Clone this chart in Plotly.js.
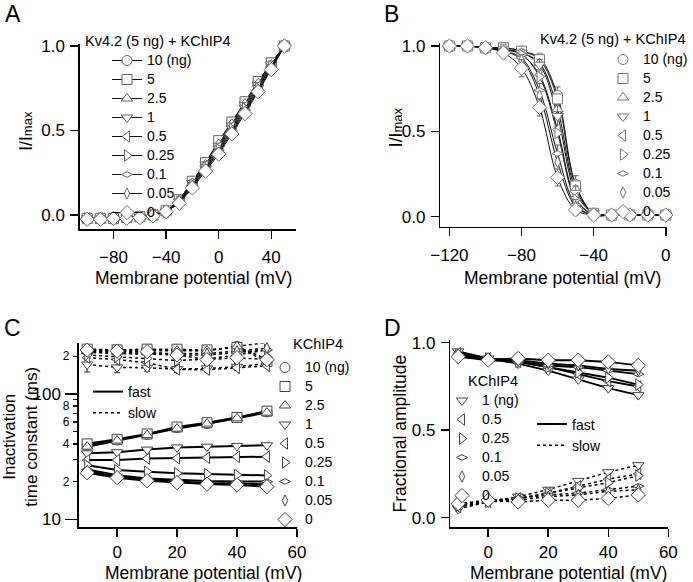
<!DOCTYPE html>
<html><head><meta charset="utf-8">
<script src="https://cdn.plot.ly/plotly-3.0.1.min.js"></script>
<style>html,body{margin:0;padding:0;background:#fff}#chart{width:693px;height:582px}</style>
</head><body><div id="chart"></div>
<script>
// ---------------- DATA ----------------
const concLabels = ['10 (ng)','5','2.5','1','0.5','0.25','0.1','0.05','0'];
const concSymbols = ['circle','square','triangle-up','triangle-down','triangle-left','triangle-right','diamond-wide','diamond-tall','diamond'];
const concSizes = [10,10,10,10,10,10,8,8,11];

// Panel A: activation (I/Imax)
const actV = [-100,-90,-80,-70,-60,-50,-40,-30,-20,-10,0,10,20,30,40,50];
const act10  = [-0.02,-0.02,-0.02,-0.015,-0.01,0.0,0.02,0.09,0.20,0.31,0.43,0.55,0.67,0.79,0.90,1.0];
const act5   = [-0.02,-0.02,-0.02,-0.015,-0.01,0.0,0.025,0.09,0.20,0.31,0.44,0.55,0.67,0.79,0.90,1.0];
const act2_5 = [-0.02,-0.02,-0.02,-0.015,-0.01,0.0,0.02,0.09,0.19,0.30,0.42,0.54,0.66,0.78,0.89,1.0];
const act1   = [-0.02,-0.02,-0.02,-0.015,-0.01,0.0,0.02,0.08,0.19,0.30,0.41,0.53,0.65,0.77,0.89,1.0];
const act0_5 = [-0.02,-0.02,-0.02,-0.015,-0.01,0.0,0.02,0.08,0.18,0.29,0.40,0.52,0.64,0.76,0.88,1.0];
const act0_25= [-0.02,-0.02,-0.02,-0.015,-0.01,0.0,0.02,0.08,0.18,0.28,0.39,0.51,0.63,0.75,0.88,1.0];
const act0_1 = [-0.02,-0.02,-0.02,-0.015,-0.01,0.0,0.02,0.08,0.17,0.27,0.38,0.50,0.62,0.74,0.87,1.0];
const act0_05= [-0.02,-0.02,-0.02,-0.015,-0.01,0.0,0.02,0.07,0.17,0.27,0.37,0.49,0.61,0.74,0.87,1.0];
const act0   = [-0.025,-0.025,-0.02,-0.02,-0.015,-0.005,0.02,0.07,0.16,0.26,0.36,0.48,0.60,0.73,0.86,1.0];
const actSeries = [act10,act5,act2_5,act1,act0_5,act0_25,act0_1,act0_05,act0];

// Panel B: steady-state inactivation
const inaV = [-120,-110,-100,-90,-80,-70,-60,-50,-40,-30,-20,-10,0];
const ina10  = [1.0,1.0,0.99,0.99,0.97,0.93,0.71,0.19,0.02,0.01,0.01,0.01,0.01];
const ina5   = [1.0,1.0,0.99,0.99,0.97,0.92,0.69,0.18,0.02,0.01,0.01,0.01,0.01];
const ina2_5 = [1.0,1.0,0.99,0.98,0.96,0.90,0.63,0.16,0.02,0.01,0.01,0.01,0.01];
const ina1   = [1.0,1.0,0.99,0.98,0.96,0.89,0.59,0.14,0.02,0.01,0.01,0.01,0.01];
const ina0_5 = [1.0,1.0,0.99,0.98,0.95,0.83,0.51,0.11,0.01,0.01,0.01,0.01,0.01];
const ina0_25= [1.0,1.0,0.99,0.98,0.95,0.82,0.49,0.10,0.01,0.01,0.01,0.01,0.01];
const ina0_1 = [1.0,1.0,0.99,0.97,0.93,0.74,0.37,0.07,0.01,0.01,0.01,0.01,0.01];
const ina0_05= [1.0,1.0,0.99,0.97,0.92,0.71,0.32,0.06,0.01,0.01,0.01,0.01,0.01];
const ina0   = [1.0,1.0,0.99,0.96,0.87,0.64,0.23,0.04,0.01,0.01,0.01,0.01,0.01];
const inaSeries = [ina10,ina5,ina2_5,ina1,ina0_5,ina0_25,ina0_1,ina0_05,ina0];
const inaErr10 = [0,0,0,0,0.01,0.02,0.05,0.05,0.01,0,0,0,0];
const inaErr1  = [0,0,0,0,0.01,0.03,0.06,0.04,0.01,0,0,0,0];
const inaErr0_1= [0,0,0,0.01,0.02,0.04,0.05,0.03,0.01,0,0,0,0];
const inaErr0  = [0,0,0,0.01,0.05,0.05,0.05,0.03,0.01,0,0,0,0];
const inaErrors = [inaErr10,null,null,inaErr1,null,null,inaErr0_1,null,inaErr0];

// Panel C: inactivation time constants (ms)
const tauV = [-10,0,10,20,30,40,50];
const tauFast = [
  [39,43,47.5,54,58,65,72],        // 10
  [40,43.5,48,54.5,59,65,73],      // 5
  [38,42.5,47,53,58,64,71],        // 2.5
  [33.6,34.3,36,37.5,38,38.5,39],  // 1
  [29.7,29.7,30.5,30.7,31,31.5,31.6], // 0.5
  [27,24.7,24,23.3,23,22.6,22.4],  // 0.25
  [25,22.5,21.2,20.6,20.2,20,20],  // 0.1
  [24.2,22,20.6,20,19.5,19.3,19],  // 0.05
  [23.5,21.5,20.3,19.6,19.1,18.8,18.2] // 0
];
const tauSlow = [
  [225,222,226,225,222,240,190],
  [228,225,228,228,225,235,182],
  [220,220,222,222,222,240,258],
  [172,163,162,158,160,165,175],
  [195,188,178,157,156,162,168],
  [205,198,192,185,190,205,225],
  [215,210,208,205,205,215,225],
  [218,214,212,210,210,220,232],
  [224,220,218,205,188,195,188]
];
const tauSlowErr = [
  [10,10,10,10,20,30,10],
  null, null,
  [22,15,10,10,10,10,10],
  null,null,null,null,null
];

// Panel D: fractional amplitudes
const ampLabels = ['1 (ng)','0.5','0.25','0.1','0.05','0'];
const ampIdx = [3,4,5,6,7,8];   // index into concSymbols
const ampV = [-10,0,10,20,30,40,50];
const ampFast = [
  [0.95,0.91,0.88,0.84,0.79,0.74,0.70],
  [0.94,0.91,0.89,0.86,0.82,0.78,0.75],
  [0.93,0.91,0.89,0.86,0.83,0.80,0.76],
  [0.93,0.90,0.89,0.87,0.86,0.84,0.82],
  [0.92,0.91,0.90,0.88,0.87,0.85,0.84],
  [0.92,0.90,0.91,0.90,0.90,0.89,0.87]
];
const ampSlow = [
  [0.05,0.09,0.12,0.16,0.21,0.26,0.30],
  [0.06,0.09,0.11,0.14,0.18,0.22,0.25],
  [0.07,0.09,0.11,0.14,0.17,0.20,0.24],
  [0.07,0.10,0.11,0.13,0.14,0.16,0.18],
  [0.08,0.09,0.10,0.12,0.13,0.15,0.16],
  [0.08,0.10,0.09,0.10,0.10,0.11,0.13]
];

// Axis tick labels
const tickA_x = [-80,-40,0,40];
const tickB_x = [-120,-80,-40,0];
const tickCD_x = [0,20,40,60];
const tickY_lin = [0,0.5,1];
const tickC_major = [10,100];
const tickC_minor = [20,40,60,80,200];
const tickC_minorText = ['2','4','6','8','2'];
const tickC_minorUnlabeled = [30,50,70,90];

// ---------------- STYLE ----------------
const FONT = 'Liberation Sans, Arial, sans-serif';
const W = 693, H = 582;
const px = v => v / W;
const py = v => 1 - v / H;
const lbl = t => '<span style="font-size:14px">' + t + '</span>';

const traces = [];

// Panel A
actSeries.forEach((ys, i) => {
  traces.push({
    type:'scatter', mode:'lines+markers', x: actV, y: ys, xaxis:'x', yaxis:'y',
    name: lbl(concLabels[i]), legend:'legend', cliponaxis:false,
    line:{color:'#111', width:1},
    marker:{symbol: concSymbols[i], size: concSizes[i], color:'#fff', line:{color:'#666', width:1}}
  });
});

// Panel B
inaSeries.forEach((ys, i) => {
  traces.push({
    type:'scatter', mode:'lines', x: inaV, y: ys, xaxis:'x2', yaxis:'y2',
    showlegend:false, cliponaxis:false, hoverinfo:'skip',
    line:{color:'#111', width:1, shape:'spline', smoothing:1}
  });
});
inaSeries.forEach((ys, i) => {
  const tr = {
    type:'scatter', mode:'markers', x: inaV, y: ys, xaxis:'x2', yaxis:'y2',
    name: lbl(concLabels[i]), legend:'legend2', cliponaxis:false,
    marker:{symbol: concSymbols[i], size: concSizes[i], color:'#fff', line:{color:'#777', width:1}}
  };
  if (inaErrors[i]) tr.error_y = {type:'data', array: inaErrors[i], color:'#666', thickness:1, width:3};
  traces.push(tr);
});

// Panel C (slow lines are drawn against the overlaid minor-tick log axis y5, same range)
tauFast.forEach((ys, i) => {
  traces.push({
    type:'scatter', mode:'lines', x: tauV, y: ys, xaxis:'x3', yaxis:'y3',
    name: 'fast', legend:'legend4', showlegend: i === 0, cliponaxis:false,
    line:{color:'#000', width:2}
  });
});
tauSlow.forEach((ys, i) => {
  traces.push({
    type:'scatter', mode:'lines', x: tauV, y: ys, xaxis:'x3', yaxis:'y5',
    name: 'slow', legend:'legend4', showlegend: i === 0, cliponaxis:false,
    line:{color:'#000', width:1.5, dash:'dot'}
  });
});
tauFast.forEach((ys, i) => {
  const tr = {
    type:'scatter', mode:'markers', x: tauV.concat(tauV), y: ys.concat(tauSlow[i]),
    xaxis:'x3', yaxis:'y5', name: lbl(concLabels[i]), legend:'legend3', cliponaxis:false,
    marker:{symbol: concSymbols[i], size: concSizes[i], color:'#fff', line:{color:'#444', width:1}}
  };
  if (tauSlowErr[i]) tr.error_y = {type:'data', array: tauV.map(() => 0).concat(tauSlowErr[i]), color:'#222', thickness:1, width:3};
  traces.push(tr);
});

// Panel D
ampFast.forEach((ys, i) => {
  traces.push({
    type:'scatter', mode:'lines', x: ampV, y: ys, xaxis:'x4', yaxis:'y4',
    name:'fast', legend:'legend6', showlegend: i === 0, cliponaxis:false,
    line:{color:'#000', width:2}
  });
});
ampSlow.forEach((ys, i) => {
  traces.push({
    type:'scatter', mode:'lines', x: ampV, y: ys, xaxis:'x4', yaxis:'y4',
    name:'slow', legend:'legend6', showlegend: i === 0, cliponaxis:false,
    line:{color:'#000', width:1.5, dash:'dot'}
  });
});
ampFast.forEach((ys, i) => {
  const k = ampIdx[i];
  traces.push({
    type:'scatter', mode:'markers', x: ampV.concat(ampV), y: ys.concat(ampSlow[i]),
    xaxis:'x4', yaxis:'y4', name: lbl(ampLabels[i]), legend:'legend5', cliponaxis:false,
    marker:{symbol: concSymbols[k], size: concSizes[k], color:'#fff', line:{color:'#444', width:1}}
  });
});

const axBase = {
  showline:true, linecolor:'#000', linewidth:1.5, ticks:'outside', tickcolor:'#000',
  tickwidth:1.5, showgrid:false, zeroline:false, fixedrange:true,
  tickfont:{size:17, family:FONT, color:'#000'}
};
const legBase = {
  xanchor:'left', yanchor:'top', bgcolor:'rgba(0,0,0,0)', borderwidth:0,
  font:{size:12, family:FONT, color:'#000'}, tracegroupgap:0
};
const ann = (text, x, y, size, opts) => Object.assign({
  text, x: px(x), y: py(y), xref:'paper', yref:'paper', showarrow:false,
  font:{size, family:FONT, color:'#000'}, xanchor:'center', yanchor:'middle'
}, opts || {});
const imaxTitle = 'I/I<span style="font-size:13px">max</span>';

const layout = {
  width: W, height: H, autosize:false,
  margin:{l:0, r:0, t:0, b:0}, paper_bgcolor:'#fff', plot_bgcolor:'rgba(0,0,0,0)',
  font:{family:FONT, color:'#000'},
  showlegend:true,
  xaxis: Object.assign({}, axBase, {domain:[px(80), px(296.7)], range:[-105.6, 59], anchor:'y',
    tickvals: tickA_x, ticklen:8, ticklabelstandoff:4}),
  yaxis: Object.assign({}, axBase, {domain:[py(229.4), py(44.3)], range:[-0.085, 1.01], anchor:'x',
    tickvals: tickY_lin, tickformat:'.1f', ticklen:8, ticklabelstandoff:2}),
  xaxis2: Object.assign({}, axBase, {domain:[px(441), px(668)], range:[-125, 0.7], anchor:'y2',
    tickvals: tickB_x, ticklen:8, ticklabelstandoff:4}),
  yaxis2: Object.assign({}, axBase, {domain:[py(226.7), py(42.6)], range:[-0.0586, 1.02], anchor:'x2',
    tickvals: tickY_lin, tickformat:'.1f', ticklen:8, ticklabelstandoff:2}),
  xaxis3: Object.assign({}, axBase, {domain:[px(79), px(297.7)], range:[-12.77, 60.13], anchor:'y3',
    tickvals: tickCD_x, ticklen:8, ticklabelstandoff:1}),
  yaxis3: Object.assign({}, axBase, {type:'log', domain:[py(527.3), py(343.3)], range:[0.9362, 2.4046], anchor:'x3',
    tickvals: tickC_major, ticktext:['10','100'], ticklen:12, ticklabelstandoff:1}),
  yaxis5: Object.assign({}, axBase, {type:'log', overlaying:'y3', anchor:'x3', side:'left', showline:false,
    range:[0.9362, 2.4046], tickvals: tickC_minor, ticktext: tickC_minorText, ticklen:5,
    tickfont:{size:12, family:FONT, color:'#000'}, ticklabelstandoff:1,
    minor:{tickvals: tickC_minorUnlabeled, ticks:'outside', ticklen:5, tickwidth:1.5, tickcolor:'#000'}}),
  xaxis4: Object.assign({}, axBase, {domain:[px(451), px(669.3)], range:[-12.6, 60], anchor:'y4',
    tickvals: tickCD_x, ticklen:8, ticklabelstandoff:1}),
  yaxis4: Object.assign({}, axBase, {domain:[py(527.3), py(340)], range:[-0.055, 1.015], anchor:'x4',
    tickvals: tickY_lin, tickformat:'.1f', ticklen:8, ticklabelstandoff:2}),
  legend:  Object.assign({}, legBase, {x: px(107), y: py(46)}),
  legend2: Object.assign({}, legBase, {x: px(604), y: py(45)}),
  legend3: Object.assign({}, legBase, {x: px(265), y: py(353)}),
  legend4: Object.assign({}, legBase, {x: px(88), y: py(376), font:{size:14, family:FONT, color:'#000'}}),
  legend5: Object.assign({}, legBase, {x: px(442), y: py(386)}),
  legend6: Object.assign({}, legBase, {x: px(532), y: py(408.5), font:{size:14, family:FONT, color:'#000'}}),
  annotations: [
    ann('A', 3, 14, 23, {xanchor:'left'}),
    ann('B', 383, 14, 23, {xanchor:'left'}),
    ann('C', 2, 328, 23, {xanchor:'left'}),
    ann('D', 383, 328, 23, {xanchor:'left'}),
    ann('Kv4.2 (5 ng) + KChIP4', 83, 41, 14.5, {xanchor:'left'}),
    ann('Kv4.2 (5 ng) + KChIP4', 688, 39, 14.5, {xanchor:'right'}),
    ann('KChIP4', 291.7, 344, 14.5, {xanchor:'left'}),
    ann('KChIP4', 466.7, 380.5, 14.5, {xanchor:'left'}),
    ann('Membrane potential (mV)', 193.8, 277.5, 17.5),
    ann('Membrane potential (mV)', 563, 277.5, 17.5),
    ann('Membrane potential (mV)', 204, 572.5, 17.5),
    ann('Membrane potential (mV)', 569, 572.5, 17.5),
    ann(imaxTitle, 26, 130.8, 17.5, {textangle:-90}),
    ann(imaxTitle, 396, 126.7, 17.5, {textangle:-90}),
    ann('Inactivation<br>time constant (ms)', 21, 436.7, 17, {textangle:-90}),
    ann('Fractional amplitude', 401, 433, 17.5, {textangle:-90})
  ]
};

Plotly.newPlot('chart', traces, layout, {staticPlot:true, displayModeBar:false});
</script>
</body></html>
